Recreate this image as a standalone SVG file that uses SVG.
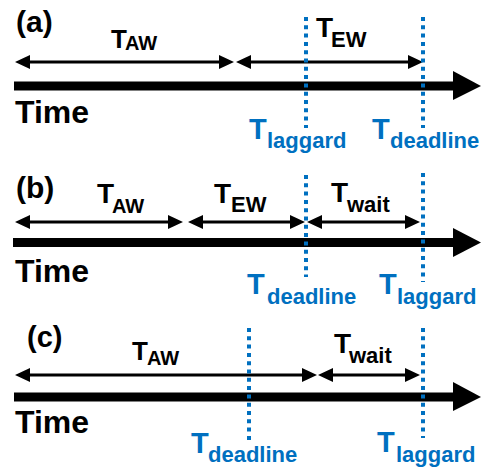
<svg xmlns="http://www.w3.org/2000/svg" width="487" height="469" viewBox="0 0 487 469">
  <defs>
    <style>
      .lbl { font-family: "Liberation Sans", Arial, sans-serif; font-weight: bold; fill: #000; }
      .tag { font-size: 30px; }
      .time { font-size: 32px; }
      .big { font-size: 28px; }
      .sub { font-size: 22px; }
      .blue { fill: #0070C0; }
      .span { stroke: #000; stroke-width: 3; fill: none; marker-start: url(#head); marker-end: url(#head); }
      .axis { fill: #000; }
      .mark { stroke: #0070C0; stroke-width: 4; stroke-dasharray: 4 4.3; fill: none; }
    </style>
    <marker id="head" markerUnits="userSpaceOnUse" markerWidth="16" markerHeight="15" viewBox="0 0 16 15" refX="10" refY="7.5" orient="auto-start-reverse">
      <path d="M0,0.5 L15,7.5 L0,14.5 z" fill="#000"/>
    </marker>
  </defs>

  <rect width="487" height="469" fill="#fff"/>

  <!-- time axes and interval spans -->
  <g id="connectors">
    <!-- (a) -->
    <rect class="axis" x="14" y="81.5" width="441" height="9"/>
    <polygon class="axis" points="453,71 481,86 453,100"/>
    <line class="span" x1="20" y1="62" x2="229" y2="62"/>
    <line class="span" x1="241" y1="62" x2="418" y2="62"/>
    <!-- (b) -->
    <rect class="axis" x="13" y="238" width="442" height="9"/>
    <polygon class="axis" points="453,228 481,242.5 453,257"/>
    <line class="span" x1="20" y1="222" x2="178" y2="222"/>
    <line class="span" x1="193" y1="222" x2="300" y2="222"/>
    <line class="span" x1="312" y1="222" x2="415" y2="222"/>
    <!-- (c) -->
    <rect class="axis" x="14" y="392.5" width="441" height="9"/>
    <polygon class="axis" points="453,382 481,397 453,411"/>
    <line class="span" x1="20" y1="375" x2="312" y2="375"/>
    <line class="span" x1="323" y1="375" x2="415" y2="375"/>

    <!-- event markers -->
    <line class="mark" x1="306" y1="17" x2="306" y2="128"/>
    <line class="mark" x1="423" y1="17" x2="423" y2="128"/>
    <line class="mark" x1="306" y1="175" x2="306" y2="277"/>
    <line class="mark" x1="423" y1="173" x2="423" y2="282"/>
    <line class="mark" x1="249" y1="328" x2="249" y2="440"/>
    <line class="mark" x1="423" y1="328" x2="423" y2="438"/>
  </g>

  <!-- panel (a) -->
  <g id="panel-a">
    <text class="lbl tag" x="16" y="32">(a)</text>
    <text class="lbl time" x="15" y="123">Time</text>
  </g>
  <g id="a-taw"><text class="lbl"><tspan class="big" x="111" y="48" style="font-size:26px">T</tspan><tspan class="sub" x="125" y="50" style="font-size:20px">AW</tspan></text></g>
  <g id="a-tew"><text class="lbl"><tspan class="big" x="316" y="37">T</tspan><tspan class="sub" x="331" y="47">EW</tspan></text></g>
  <g id="a-laggard"><text class="lbl blue"><tspan class="big" x="249" y="139" style="font-size:29px">T</tspan><tspan class="sub" x="267" y="148">laggard</tspan></text></g>
  <g id="a-deadline"><text class="lbl blue"><tspan class="big" x="372" y="139" style="font-size:29px">T</tspan><tspan class="sub" x="390" y="148">deadline</tspan></text></g>

  <!-- panel (b) -->
  <g id="panel-b">
    <text class="lbl tag" x="16" y="198">(b)</text>
    <text class="lbl time" x="15" y="282">Time</text>
  </g>
  <g id="b-taw"><text class="lbl"><tspan class="big" x="97" y="203">T</tspan><tspan class="sub" x="112" y="213" style="font-size:20px">AW</tspan></text></g>
  <g id="b-tew"><text class="lbl"><tspan class="big" x="214" y="203">T</tspan><tspan class="sub" x="231" y="212">EW</tspan></text></g>
  <g id="b-twait"><text class="lbl"><tspan class="big" x="331" y="202">T</tspan><tspan class="sub" x="347" y="212">wait</tspan></text></g>
  <g id="b-deadline"><text class="lbl blue"><tspan class="big" x="247" y="294" style="font-size:29px">T</tspan><tspan class="sub" x="267" y="304">deadline</tspan></text></g>
  <g id="b-laggard"><text class="lbl blue"><tspan class="big" x="379" y="294" style="font-size:29px">T</tspan><tspan class="sub" x="397" y="304">laggard</tspan></text></g>

  <!-- panel (c) -->
  <g id="panel-c">
    <text class="lbl tag" x="27" y="347" style="font-size:29px">(c)</text>
    <text class="lbl time" x="15" y="433">Time</text>
  </g>
  <g id="c-taw"><text class="lbl"><tspan class="big" x="132" y="360" style="font-size:26px">T</tspan><tspan class="sub" x="147" y="365" style="font-size:20px">AW</tspan></text></g>
  <g id="c-twait"><text class="lbl"><tspan class="big" x="334" y="353">T</tspan><tspan class="sub" x="349" y="363">wait</tspan></text></g>
  <g id="c-deadline"><text class="lbl blue"><tspan class="big" x="191" y="453" style="font-size:29px">T</tspan><tspan class="sub" x="208" y="462">deadline</tspan></text></g>
  <g id="c-laggard"><text class="lbl blue"><tspan class="big" x="377" y="452" style="font-size:29px">T</tspan><tspan class="sub" x="396" y="462">laggard</tspan></text></g>
</svg>
